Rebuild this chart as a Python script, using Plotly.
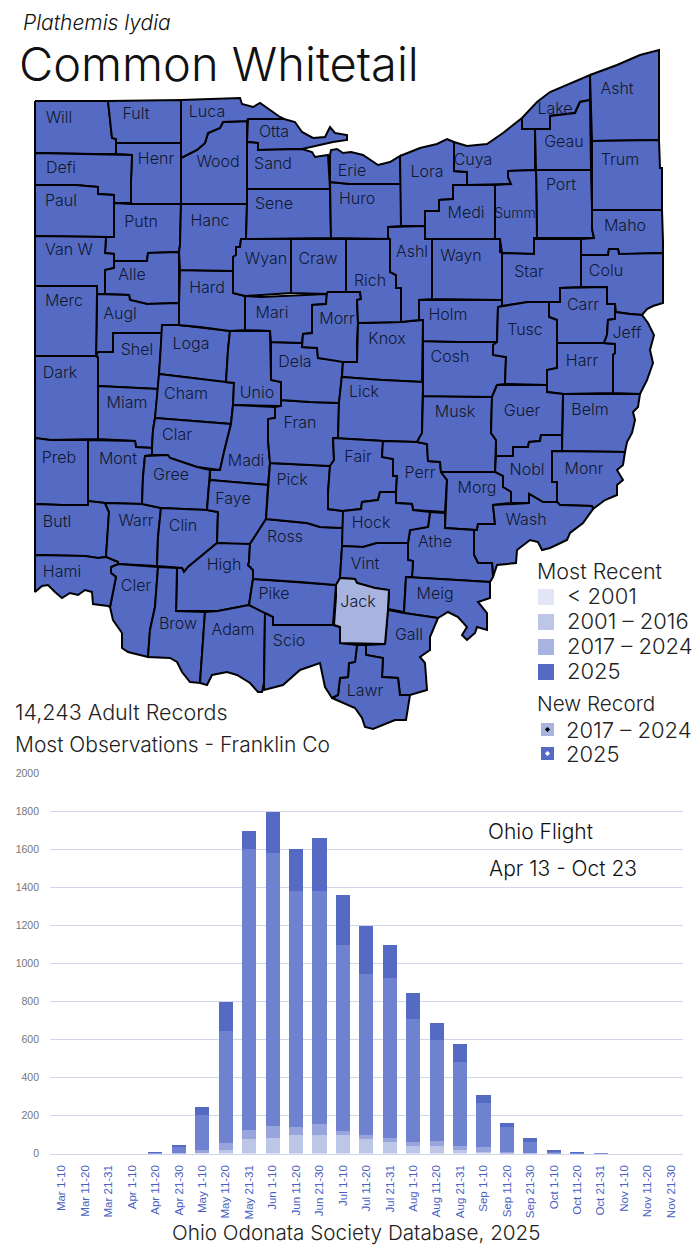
import plotly.graph_objects as go

# ---------- flight chart values (records per ten-day period) ----------
PERIODS = ["Mar 1-10","Mar 11-20","Mar 21-31","Apr 1-10","Apr 11-20","Apr 21-30",
           "May 1-10","May 11-20","May 21-31","Jun 1-10","Jun 11-20","Jun 21-30",
           "Jul 1-10","Jul 11-20","Jul 21-31","Aug 1-10","Aug 11-20","Aug 21-31",
           "Sep 1-10","Sep 11-20","Sep 21-30","Oct 1-10","Oct 11-20","Oct 21-31",
           "Nov 1-10","Nov 11-20","Nov 21-30"]
OLDEST = [0,0,0,0,1,3,5,21,74,79,95,100,95,74,63,37,37,21,10,5,2,1,0,0,0,0,0]
OLDER  = [0,0,0,0,1,1,11,32,52,68,42,53,26,21,21,21,31,21,22,5,3,2,1,0,0,0,0]
RECENT = [0,0,0,0,6,33,189,594,1479,1437,1243,1227,974,852,842,652,532,437,236,132,53,7,4,2,0,0,0]
LATEST = [0,0,0,0,2,10,42,148,95,216,225,278,268,253,169,137,89,95,42,21,21,11,5,3,0,0,0]
Y_TICKS = [0,200,400,600,800,1000,1200,1400,1600,1800,2000]

# ---------- county outlines ----------
WILL=[(35,101),(108,101),(112,138),(116,139),(116,154),(96,154),(35,153)]
FULT=[(108,101),(158,100),(181,100),(181,143),(116,143),(116,139),(112,138)]
HENR=[(116,143),(181,143),(181,204),(131,204),(131,180),(132,155),(116,154)]
DEFI=[(35,153),(96,154),(116,154),(132,155),(131,180),(131,203),(114,203),(114,195),(98,194),(98,187),(75,185),(35,185)]
PAUL=[(35,185),(75,185),(98,187),(98,194),(114,195),(114,237),(106,237),(35,236)]
PUTN=[(114,203),(131,204),(181,204),(180,245),(179,252),(148,253),(147,261),(114,261),(114,254),(105,253),(106,237),(114,237)]
VANW=[(35,236),(106,237),(105,253),(114,254),(114,268),(105,270),(105,294),(97,294),(97,286),(35,286)]
ALLE=[(114,261),(147,261),(148,253),(179,252),(179,303),(147,304),(130,300),(129,295),(105,294),(105,270),(114,268)]
AUGL=[(97,294),(129,295),(130,300),(147,304),(179,303),(179,325),(162,325),(162,333),(113,333),(113,352),(98,352),(96,356)]
MERC=[(35,286),(97,286),(97,294),(96,356),(35,356)]
DARK=[(35,356),(96,356),(98,357),(98,439),(50,440),(35,438)]
SHEL=[(98,352),(113,352),(113,333),(162,333),(160,360),(158,389),(98,386),(98,357),(96,356)]
MIAM=[(98,386),(158,389),(155,418),(153,430),(152,448),(136,447),(135,441),(98,439)]
LOGA=[(162,325),(179,325),(230,331),(228,350),(226,382),(220,382),(192,378),(159,374),(160,360),(162,333)]
CHAM=[(159,374),(192,378),(220,382),(234,383),(233,405),(231,424),(193,421),(155,418)]
UNIO=[(230,331),(270,331),(271,380),(281,382),(281,406),(233,405),(234,383),(226,382),(228,350)]
CLAR=[(155,418),(193,421),(231,424),(224,452),(220,470),(197,467),(170,458),(167,455),(152,455),(152,448),(153,430)]
MADI=[(233,405),(275,407),(275,418),(268,419),(268,440),(270,463),(268,485),(210,480),(210,470),(220,470),(224,452),(231,424)]
MONT=[(88,440),(135,441),(136,447),(152,448),(152,455),(145,456),(143,477),(142,504),(105,503),(88,501)]
PREB=[(35,438),(50,440),(88,440),(88,505),(62,505),(35,504)]
BUTL=[(35,504),(62,505),(88,505),(88,501),(105,503),(109,512),(107,542),(106,557),(98,558),(85,556),(35,555)]
WARR=[(105,503),(142,504),(161,508),(158,537),(157,566),(118,564),(118,562),(106,557),(107,542),(109,512)]
GREE=[(145,456),(168,455),(170,458),(197,467),(210,470),(209,485),(207,510),(161,508),(142,504),(143,477)]
CLIN=[(161,508),(207,510),(218,512),(217,543),(200,557),(188,567),(184,572),(182,568),(157,566),(158,537)]
FAYE=[(210,480),(268,485),(266,519),(257,533),(250,544),(230,544),(217,543),(218,512),(207,510),(209,485)]
HIGH=[(217,543),(250,544),(249,562),(248,565),(253,570),(253,579),(249,605),(218,611),(176,611),(177,568),(182,568),(184,572),(188,567),(200,557)]
CLER=[(118,564),(158,567),(155,607),(150,630),(148,657),(128,652),(122,648),(122,633),(113,620),(110,607),(116,577),(111,573),(111,567)]
HAMI=[(35,555),(85,556),(98,558),(106,557),(118,562),(118,564),(111,567),(111,573),(116,577),(110,607),(108,606),(93,604),(92,592),(85,590),(78,595),(70,593),(62,598),(55,592),(48,585),(42,586),(35,592)]
BROW=[(158,567),(177,568),(176,611),(205,612),(200,683),(190,682),(182,672),(177,662),(170,658),(148,657),(150,630),(155,607)]
ADAM=[(205,612),(218,611),(249,605),(265,613),(264,683),(262,692),(258,692),(250,683),(237,675),(227,672),(212,675),(207,685),(200,683)]
PIKE=[(253,579),(300,582),(336,585),(333,625),(315,625),(273,625),(273,617),(265,613),(249,605)]
ROSS=[(266,519),(307,523),(320,527),(343,528),(342,548),(340,578),(336,585),(300,582),(253,579),(253,570),(248,565),(249,562),(250,544),(257,533)]
PICK=[(270,463),(312,465),(330,466),(328,493),(328,509),(343,511),(343,528),(320,527),(307,523),(266,519),(268,485)]
FRAN=[(281,400),(310,402),(339,403),(338,438),(333,438),(334,460),(330,466),(312,465),(270,463),(268,440),(268,419),(275,418),(275,407),(281,406)]
DELA=[(271,342),(302,343),(302,347),(317,348),(318,358),(343,361),(342,375),(339,403),(310,402),(281,400),(281,382),(271,380)]
MARI=[(245,296),(261,297),(327,294),(326,304),(312,305),(312,333),(303,334),(302,343),(271,342),(270,331),(245,330)]
HARD=[(180,270),(233,271),(233,293),(245,296),(245,330),(230,331),(200,327),(179,325),(179,303)]
HANC=[(181,204),(247,204),(246,239),(241,239),(240,247),(236,247),(236,255),(233,257),(233,271),(180,270),(179,252),(180,245)]
WOOD=[(223,122),(247,121),(247,204),(181,204),(181,158),(197,150),(205,143),(208,133),(220,128)]
LUCA=[(181,100),(207,99),(240,98),(242,104),(253,107),(260,103),(267,108),(280,117),(284,119),(248,119),(247,121),(223,122),(220,128),(208,133),(205,143),(197,150),(181,158)]
OTTA=[(248,119),(284,119),(295,122),(302,132),(313,138),(325,137),(330,127),(335,133),(347,135),(347,140),(333,142),(320,145),(302,149),(258,150),(258,143),(247,142)]
SAND=[(247,142),(258,143),(258,150),(302,149),(312,152),(315,157),(328,155),(330,182),(330,189),(247,189)]
SENE=[(247,189),(330,189),(331,238),(246,239),(247,204)]
WYAN=[(241,239),(291,239),(291,293),(261,295),(245,296),(233,293),(233,257),(236,255),(236,247),(240,247)]
CRAW=[(291,239),(346,239),(346,293),(327,294),(291,293)]
MORR=[(327,292),(360,292),(361,299),(357,300),(358,323),(357,343),(357,362),(343,362),(318,358),(317,348),(302,347),(303,334),(312,333),(312,305),(326,304)]
KNOX=[(358,323),(400,322),(423,320),(422,382),(382,380),(342,377),(343,362),(357,362)]
LICK=[(342,377),(382,380),(423,382),(422,433),(417,442),(383,441),(333,438),(338,438),(339,403),(342,375)]
FAIR=[(333,438),(383,441),(382,457),(393,459),(393,476),(397,476),(396,492),(380,492),(378,500),(362,502),(361,509),(343,511),(328,509),(328,493),(330,466),(334,460)]
PERR=[(383,441),(417,442),(427,444),(428,461),(440,462),(441,472),(447,480),(445,512),(413,510),(412,504),(396,503),(396,492),(397,476),(393,476),(393,459),(382,457)]
MUSK=[(423,396),(492,397),(491,433),(496,440),(495,472),(441,472),(440,462),(428,461),(427,444),(417,442),(422,433)]
COSH=[(423,341),(460,342),(497,342),(493,345),(493,355),(506,357),(505,384),(497,385),(492,397),(423,396),(423,382)]
HOLM=[(419,300),(502,300),(502,306),(498,307),(497,342),(460,342),(423,341),(423,320),(419,320)]
RICH=[(346,239),(390,239),(390,272),(396,275),(396,288),(401,288),(401,322),(358,323),(357,300),(361,299),(360,292),(346,292)]
ASHL=[(388,227),(425,226),(425,239),(432,239),(432,299),(419,300),(419,320),(401,322),(401,288),(396,288),(396,275),(390,272),(390,239),(388,238)]
WAYN=[(432,239),(500,239),(500,252),(502,253),(502,300),(432,299)]
HURO=[(330,182),(350,184),(401,184),(401,226),(388,227),(388,239),(331,238),(330,188)]
ERIE=[(330,155),(331,150),(337,149),(343,153),(351,152),(355,153),(363,155),(378,165),(390,162),(400,156),(401,184),(350,184),(330,182)]
LORA=[(400,156),(420,148),(437,144),(447,139),(454,142),(454,171),(467,172),(467,185),(453,185),(453,199),(439,200),(439,211),(425,211),(425,226),(401,226)]
MEDI=[(453,185),(495,185),(495,239),(425,239),(425,211),(439,211),(439,200),(453,199)]
CUYA=[(454,142),(467,146),(487,144),(503,133),(522,118),(522,129),(535,129),(535,170),(508,171),(508,177),(511,184),(467,185),(467,172),(454,171)]
LAKE=[(522,118),(537,102),(550,92),(573,82),(590,75),(590,100),(580,102),(575,113),(550,116),(550,129),(522,129)]
GEAU=[(550,116),(575,113),(580,102),(590,100),(591,170),(536,170),(535,129),(550,129)]
ASHT=[(590,75),(617,65),(640,55),(659,50),(659,140),(592,141)]
TRUM=[(592,141),(659,140),(660,168),(662,168),(662,210),(592,210)]
PORT=[(536,170),(591,170),(592,210),(592,229),(594,238),(537,238)]
SUMM=[(508,171),(536,170),(537,238),(534,238),(534,254),(502,253),(500,239),(495,239),(495,185),(511,184),(508,177)]
MAHO=[(592,210),(662,210),(663,242),(663,253),(632,254),(619,254),(618,249),(609,249),(608,255),(581,255),(581,239),(594,238),(592,229)]
STAR=[(534,239),(581,239),(581,287),(560,288),(560,302),(528,302),(502,306),(502,253),(534,254)]
COLU=[(581,255),(608,255),(609,249),(618,249),(619,254),(663,253),(663,303),(653,306),(647,309),(642,315),(630,314),(616,312),(615,304),(607,304),(607,287),(581,287)]
CARR=[(560,288),(607,287),(607,304),(615,304),(615,319),(608,320),(607,335),(604,343),(557,343),(557,320),(549,317),(549,302),(560,302)]
TUSC=[(498,307),(528,302),(549,302),(549,317),(557,320),(557,368),(547,370),(547,385),(505,384),(506,357),(493,355),(493,345),(497,342)]
HARR=[(557,343),(604,343),(615,344),(615,353),(613,355),(613,393),(563,394),(547,392),(547,370),(557,368)]
JEFF=[(607,335),(608,320),(615,319),(615,312),(630,314),(642,315),(648,323),(654,335),(650,350),(653,363),(647,380),(640,394),(613,393),(613,355),(615,353),(615,344),(604,343)]
BELM=[(563,394),(640,394),(638,407),(633,412),(635,420),(632,433),(627,442),(625,452),(562,451)]
GUER=[(497,385),(547,385),(547,392),(563,394),(562,435),(541,435),(540,441),(529,442),(528,447),(513,447),(513,456),(496,456),(496,440),(491,433),(492,397)]
NOBL=[(496,456),(513,456),(513,447),(528,447),(529,442),(540,441),(541,435),(562,435),(562,451),(552,451),(552,482),(557,482),(557,502),(543,502),(531,495),(529,494),(529,503),(511,503),(511,492),(503,487),(503,476),(495,472)]
MONR=[(552,451),(625,452),(623,465),(617,470),(623,480),(617,485),(617,495),(605,500),(593,509),(592,506),(560,505),(557,502),(557,482),(552,482)]
MORG=[(441,472),(495,472),(503,476),(503,487),(511,492),(511,503),(493,505),(495,524),(478,524),(477,530),(445,528),(447,480)]
WASH=[(493,505),(529,503),(529,494),(543,502),(557,502),(560,505),(592,506),(593,509),(583,523),(570,533),(567,540),(550,548),(542,550),(538,542),(530,540),(517,550),(516,563),(497,565),(493,577),(492,563),(478,563),(474,555),(474,530),(477,530),(478,524),(495,524)]
ATHE=[(430,512),(445,513),(445,528),(474,530),(474,555),(478,563),(492,563),(493,577),(490,582),(406,577),(412,577),(413,561),(408,560),(408,543),(410,530),(428,527)]
HOCK=[(343,511),(361,509),(362,502),(378,500),(380,492),(396,492),(396,503),(412,504),(413,510),(430,512),(428,527),(410,530),(408,543),(377,543),(363,547),(342,546)]
VINT=[(342,546),(363,547),(377,543),(408,543),(408,560),(413,561),(412,577),(406,577),(404,612),(388,609),(389,590),(375,588),(357,583),(355,579),(340,578)]
MEIG=[(406,577),(490,582),(490,598),(478,602),(487,613),(487,630),(477,627),(475,633),(467,640),(462,635),(467,627),(458,617),(448,612),(438,618),(404,613)]
GALL=[(388,610),(404,613),(438,618),(430,637),(430,650),(420,657),(425,663),(427,690),(410,695),(400,695),(398,678),(382,677),(383,658),(366,655),(366,645),(385,644)]
LAWR=[(357,645),(366,645),(366,655),(383,658),(382,677),(398,678),(400,695),(410,695),(406,720),(395,720),(373,729),(365,727),(362,718),(355,708),(332,698),(338,695),(340,678),(348,677),(349,663),(355,662)]
SCIO=[(265,613),(273,617),(273,625),(315,625),(333,625),(340,627),(340,643),(357,645),(355,662),(349,663),(348,677),(340,678),(338,695),(332,698),(325,687),(320,663),(300,670),(283,685),(264,690),(264,683)]
JACK=[(340,578),(355,579),(357,583),(375,588),(389,590),(388,609),(385,644),(340,643),(340,627),(334,625),(336,597),(336,585)]

SHAPES = [WILL,FULT,HENR,DEFI,PAUL,PUTN,VANW,ALLE,AUGL,MERC,DARK,SHEL,MIAM,LOGA,CHAM,UNIO,CLAR,MADI,MONT,PREB,BUTL,WARR,
          GREE,CLIN,FAYE,HIGH,CLER,HAMI,BROW,ADAM,PIKE,ROSS,PICK,FRAN,DELA,MARI,HARD,HANC,WOOD,LUCA,OTTA,SAND,SENE,WYAN,CRAW,
          MORR,KNOX,LICK,FAIR,PERR,MUSK,COSH,HOLM,RICH,ASHL,WAYN,HURO,ERIE,LORA,MEDI,CUYA,LAKE,GEAU,ASHT,TRUM,PORT,SUMM,MAHO,
          STAR,COLU,CARR,TUSC,HARR,JEFF,BELM,GUER,NOBL,MONR,MORG,WASH,ATHE,HOCK,VINT,MEIG,GALL,LAWR,SCIO,JACK]

LABEL_TEXT = ["Will","Fult","Luca","Otta","Henr","Wood","Sand","Defi","Paul","Putn","Sene","Hanc","Van W","Alle","Wyan","Craw","Hard","Merc","Augl","Mari","Morr","Loga","Shel","Dela","Knox","Cham","Dark","Miam","Unio","Clar","Fran","Madi","Preb","Mont","Gree","Faye","Pick","Fair","Perr","Erie","Lora","Cuya","Huro","Medi","Summ","Geau","Lake","Asht","Trum","Port","Maho","Wayn","Star","Colu","Ashl","Rich","Holm","Carr","Tusc","Jeff","Cosh","Harr","Lick","Musk","Guer","Belm","Nobl","Monr","Morg","Wash","Hock","Athe","Vint","Jack","Meig","Gall","Lawr","Ross","High","Pike","Scio","Adam","Brow","Cler","Clin","Warr","Butl","Hami"]
LABEL_X = [59,136,207,274,156,218,273,61,61,141,274,210,69,132,266,318,207,64,120,272,337,191,137,295,387,186,60,127,257,177,300,246,59,118,171,233,292,358,420,352,427,473,357,466,515,564,555,617,620,561,625,461,529,606,412,370,448,583,525,627,450,582,364,455,522,590,527,584,477,526,371,435,365,358,435,409,365,285,224,274,289,233,178,136,183,136,57,62]
LABEL_Y = [119,115,113,133,160,163,165,169,202,223,205,222,251,276,260,260,289,302,315,314,320,345,351,363,340,395,374,404,394,436,424,462,459,460,476,500,481,458,474,172,173,161,200,214,214,143,110,90,161,186,227,257,273,272,253,282,316,306,331,334,358,362,393,413,412,411,471,470,489,521,524,543,565,603,595,636,692,538,566,595,642,631,625,587,527,522,523,573]
LABEL_SIZE = [14 if name == "Summ" else 16 for name in LABEL_TEXT]

LEGEND_RECENT = ["< 2001","2001 – 2016","2017 – 2024","2025"]
LEGEND_NEW = ["2017 – 2024","2025"]

C_PRE2001 = "#E3E6F5"; C_2001 = "#BEC6E8"; C_2017 = "#A8B3E0"; C_2025 = "#556BC3"
C_BARS = ["#BEC6E8","#98A5DD","#6F82CF","#556BC3"]
C_GRID = "#D0D6EC"
FONT = "Inter"
INK = "#111111"

fig = go.Figure()

# flight chart
for vals, col in zip([OLDEST, OLDER, RECENT, LATEST], C_BARS):
    fig.add_trace(go.Bar(x=PERIODS, y=vals, marker=dict(color=col, line_width=0),
                         hoverinfo="skip", showlegend=False, xaxis="x", yaxis="y"))

# map
for poly in SHAPES:
    closed = poly + poly[:1]
    fig.add_trace(go.Scatter(x=[p[0] for p in closed], y=[p[1] for p in closed], mode="lines",
                             fill="toself", fillcolor=C_2017 if poly is JACK else C_2025,
                             line=dict(color="black", width=2), hoverinfo="skip",
                             showlegend=False, xaxis="x2", yaxis="y2"))
fig.add_trace(go.Scatter(x=LABEL_X, y=LABEL_Y, text=LABEL_TEXT, mode="text", textposition="middle center",
                         textfont=dict(family=FONT, size=LABEL_SIZE, color="#101830", weight=300), hoverinfo="skip",
                         showlegend=False, xaxis="x2", yaxis="y2"))

# legend swatches
fig.add_trace(go.Scatter(x=[546]*4, y=[597,622,647,672], mode="markers",
                         marker=dict(symbol="square", size=16, color=[C_PRE2001,C_2001,C_2017,C_2025], line_width=0),
                         hoverinfo="skip", showlegend=False, xaxis="x2", yaxis="y2"))
fig.add_trace(go.Scatter(x=[547.5,547.5], y=[729.5,753.5], mode="markers",
                         marker=dict(symbol="square", size=13, color=[C_2017,C_2025], line_width=0),
                         hoverinfo="skip", showlegend=False, xaxis="x2", yaxis="y2"))
fig.add_trace(go.Scatter(x=[547.5,547.5], y=[729.5,753.5], mode="markers",
                         marker=dict(symbol="diamond", size=4, color=["black","white"], line_width=0),
                         hoverinfo="skip", showlegend=False, xaxis="x2", yaxis="y2"))

def note(txt, x, y, size, anchor="left", italic=False, color=INK):
    fig.add_annotation(text=txt, x=x, y=y, xref="x2", yref="y2", xanchor=anchor, yanchor="middle",
                       showarrow=False, align="left",
                       font=dict(family=FONT, size=size, color=color, weight=300,
                                 style="italic" if italic else "normal"))

note("Plathemis lydia", 21, 22, 21, italic=True)
note("Common Whitetail", 17, 63, 47)
note("14,243 Adult Records", 13, 712, 21.5, color="#222222")
note("Most Observations - Franklin Co", 13, 744, 21, color="#222222")
note("Most Recent", 535, 571, 21.5, color="#222222")
for t, y in zip(LEGEND_RECENT, [596,621,646,671]):
    note(t, 565, y, 22, color="#222222")
note("New Record", 535, 703, 20.7, color="#222222")
for t, y in zip(LEGEND_NEW, [730,754]):
    note(t, 564, y, 22, color="#222222")
note("Ohio Flight", 486, 831, 21)
note("Apr 13 - Oct 23", 487, 868, 21)
note("Ohio Odonata Society Database, 2025", 356, 1232, 20.7, anchor="center", color="#222222")

fig.update_layout(
    width=700, height=1250, margin=dict(l=0, r=0, t=0, b=0),
    paper_bgcolor="white", plot_bgcolor="rgba(0,0,0,0)", barmode="stack", bargap=0.4,
    xaxis=dict(domain=[50/700, 682.7/700], categoryorder="array", categoryarray=PERIODS,
               tickangle=-90, tickmode="array", tickvals=PERIODS, ticks="", showgrid=False, automargin=False,
               showline=True, linecolor=C_GRID, linewidth=1, zeroline=False, ticklabelstandoff=6,
               tickfont=dict(family="Liberation Sans", size=11.5, color="#4A5FC4"), fixedrange=True),
    yaxis=dict(domain=[1-1153.5/1250, 1-773.5/1250], range=[0,2000], tickmode="array", tickvals=Y_TICKS,
               showgrid=True, gridcolor=C_GRID, gridwidth=1, zeroline=False, ticks="", ticklabelstandoff=10,
               automargin=False,
               tickfont=dict(family="Liberation Sans", size=10.5, color="#757575"), fixedrange=True),
    xaxis2=dict(domain=[0,1], range=[0,700], visible=False, fixedrange=True, anchor="y2", automargin=False),
    yaxis2=dict(domain=[0,1], range=[1250,0], visible=False, fixedrange=True, anchor="x2", automargin=False),
)

fig.write_html("out.html", config={"displayModeBar": False},
               post_script="document.body.style.margin='0';")
